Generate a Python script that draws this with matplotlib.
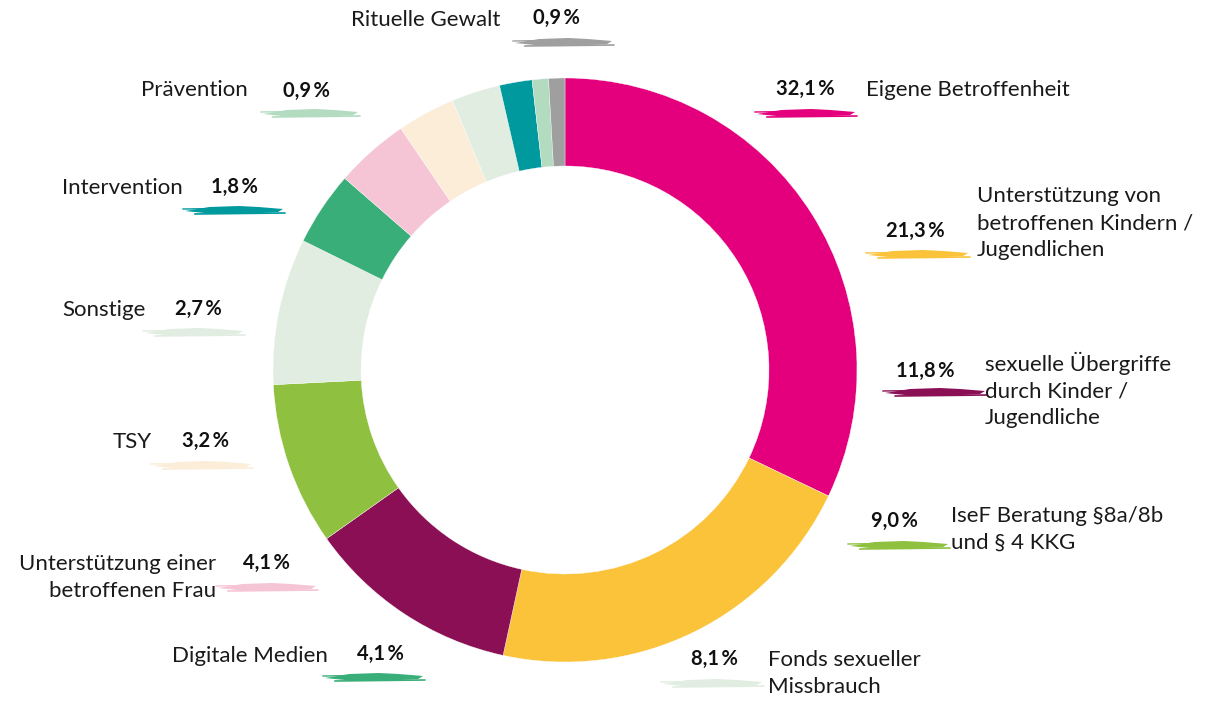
import matplotlib
matplotlib.use("Agg")
import matplotlib.pyplot as plt
from matplotlib.patches import Polygon

# data (clockwise from top)
categories = ["Eigene Betroffenheit",
              "Unterstützung von\nbetroffenen Kindern /\nJugendlichen",
              "sexuelle Übergriffe\ndurch Kinder /\nJugendliche",
              "IseF Beratung §8a/8b\nund § 4 KKG",
              "Fonds sexueller\nMissbrauch",
              "Digitale Medien",
              "Unterstützung einer\nbetroffenen Frau",
              "TSY",
              "Sonstige",
              "Intervention",
              "Prävention",
              "Rituelle Gewalt"]
values = [32.1, 21.3, 11.8, 9.0, 8.1, 4.1, 4.1, 3.2, 2.7, 1.8, 0.9, 0.9]
pct_labels = ["32,1%", "21,3%", "11,8%", "9,0%", "8,1%", "4,1%",
              "4,1%", "3,2%", "2,7%", "1,8%", "0,9%", "0,9%"]
colors = ["#e4007d", "#fbc33a", "#8a0f55", "#8fc040", "#e1ede1", "#3aae78",
          "#f6c5d5", "#fcedd8", "#e1ede1", "#00999e", "#b2dbc0", "#9f9f9f"]

W, H = 1206, 701
fig = plt.figure(figsize=(W / 100, H / 100), dpi=100)
ax = fig.add_axes([0, 0, 1, 1])

def Y(y):
    return H - y

# donut
cx, cy, r = 565, 370, 292
ax.pie(values, colors=colors, startangle=90, counterclock=False,
       center=(cx, Y(cy)), radius=r, frame=True,
       wedgeprops=dict(width=88, edgecolor="white", linewidth=0.25))
ax.set_xlim(0, W)
ax.set_ylim(0, H)
ax.set_aspect("equal")
ax.axis("off")

FONT = ["Lato", "DejaVu Sans"]
TXT = "#1a1a1a"

def brush(x0, x1, y, color):
    # rough brush-stroke swatch
    L = x1 - x0
    pts = [(x0, y + 1), (x0 + 0.25 * L, y - 3), (x0 + 0.55 * L, y - 4),
           (x0 + 0.75 * L, y - 3), (x1, y - 1), (x1 - 0.05 * L, y + 2),
           (x0 + 0.6 * L, y + 4), (x0 + 0.3 * L, y + 4)]
    ax.add_patch(Polygon([(px, Y(py)) for px, py in pts], closed=True,
                         facecolor=color, edgecolor="none"))
    ax.plot([x0 + 0.1 * L, x1 + 2], [Y(y + 4), Y(y + 3)], color=color, lw=1.2,
            solid_capstyle="round")
    ax.plot([x0 - 2, x0 + 0.7 * L], [Y(y - 1), Y(y - 2)], color=color, lw=1.0)

# label layout: (pct x right edge, pct y, text x, text y top line, align, swatch x0, x1, y)
layout = [
    (835, 89, 866, 89, "left", 757, 855, 113),
    (945, 231, 977, 195, "left", 868, 968, 254),
    (955, 371, 985, 360, "left", 885, 985, 392),
    (918, 521, 951, 515, "left", 850, 948, 545),
    (738, 659, 768, 659, "left", 663, 762, 683),
    (404, 654, 328, 654, "right", 325, 423, 677),
    (290, 563, 216, 563, "right", 218, 316, 587),
    (229, 441, 152, 441, "right", 153, 251, 465),
    (222, 309, 146, 309, "right", 145, 243, 332),
    (258, 187, 183, 187, "right", 185, 283, 210),
    (330, 91, 248, 89, "right", 263, 358, 113),
    (580, 18, 500, 18, "right", 515, 612, 42),
]

for cat, pct, col, (px, py, tx, ty, ha, s0, s1, sy) in zip(categories, pct_labels, colors, layout):
    brush(s0, s1, sy, col)
    ax.text(px, Y(py), pct.replace("%", "\u2009%"), ha="right", va="center",
            fontsize=14.5, fontweight="bold", family=FONT, color="#111111")
    ax.text(tx, Y(ty) + 8.5, cat, ha=ha, va="top", fontsize=16,
            family=FONT, color=TXT, linespacing=1.41,
            multialignment=ha)

fig.savefig("out.png", dpi=100)
